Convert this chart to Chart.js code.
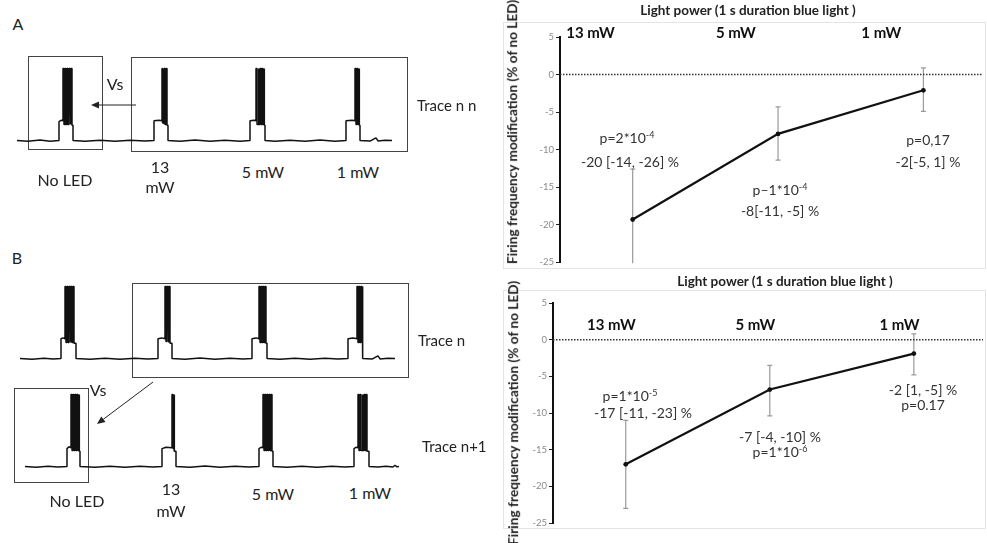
<!DOCTYPE html>
<html>
<head>
<meta charset="utf-8">
<script src="https://cdn.jsdelivr.net/npm/chart.js@4.4.0/dist/chart.umd.min.js"></script>
<style>
  html, body { margin: 0; background: #fff; overflow: hidden; }
  #page { position: relative; width: 987px; height: 543px; overflow: hidden; font-family: Lato, "Open Sans", sans-serif; color: #222; }
  canvas { position: absolute; }
  .t { position: absolute; transform: translate(-50%, -50%); white-space: nowrap; line-height: 1; }
  .l { position: absolute; transform: translateY(-50%); white-space: nowrap; line-height: 1; }
  .box { position: absolute; border: 1px solid #444; box-sizing: border-box; }
  .frame { position: absolute; border: 1px solid #e4e4e4; box-sizing: border-box; }
  .ann { font-size: 14px; color: #333; }
  .ann sup { font-size: 9px; vertical-align: 5px; line-height: 0; }
  .ttl { font-weight: bold; font-size: 13.5px; color: #222; }
  .ytl { position: absolute; font-weight: bold; font-size: 13.7px; color: #222; white-space: nowrap; line-height: 1; transform: translate(-50%, -50%) rotate(-90deg); }
  .lab { font-size: 16px; }
  .trc { font-size: 15px; }
</style>
</head>
<body>
<div id="page">
  <!-- panel A, left -->
  <div class="t lab" style="left:18px;top:24px">A</div>
  <div class="box" style="left:28px;top:56px;width:75px;height:94px"></div>
  <div class="box" style="left:131px;top:57px;width:277px;height:95px"></div>
  <canvas id="traceA" width="420" height="81" style="left:0;top:65px"></canvas>
  <div class="t lab" style="left:115px;top:84px">Vs</div>
  <div class="l trc" style="left:417px;top:105px">Trace n n</div>
  <div class="t lab" style="left:65px;top:180px">No LED</div>
  <div class="t lab" style="left:160px;top:167px">13</div>
  <div class="t lab" style="left:160px;top:187px">mW</div>
  <div class="t lab" style="left:263px;top:172px">5 mW</div>
  <div class="t lab" style="left:358px;top:172px">1 mW</div>

  <!-- panel B, left -->
  <div class="t lab" style="left:17px;top:258px">B</div>
  <div class="box" style="left:132px;top:283px;width:277px;height:95px"></div>
  <div class="box" style="left:14px;top:388px;width:75px;height:95px"></div>
  <canvas id="traceN" width="420" height="81" style="left:0;top:283px"></canvas>
  <canvas id="traceN1" width="420" height="81" style="left:0;top:391px"></canvas>
  <div class="t lab" style="left:98px;top:390px">Vs</div>
  <div class="l trc" style="left:418px;top:340px">Trace n</div>
  <div class="l trc" style="left:422px;top:446px">Trace n+1</div>
  <div class="t lab" style="left:77px;top:501px">No LED</div>
  <div class="t lab" style="left:171px;top:489px">13</div>
  <div class="t lab" style="left:171px;top:511px">mW</div>
  <div class="t lab" style="left:273px;top:494px">5 mW</div>
  <div class="t lab" style="left:370px;top:493px">1 mW</div>

  <svg style="position:absolute;left:0;top:0" width="987" height="543">
    <line x1="136" y1="105" x2="98" y2="105" stroke="#222" stroke-width="1"/>
    <polygon points="91,105 99,101.5 99,108.5" fill="#222"/>
    <line x1="153" y1="382" x2="103.4" y2="419.2" stroke="#222" stroke-width="1"/>
    <polygon points="97,424 105.5,422 101.3,416.4" fill="#222"/>
  </svg>

  <!-- right, top chart -->
  <div class="frame" style="left:503px;top:22px;width:483px;height:247px"></div>
  <canvas id="effTop" width="487" height="270" style="left:500px;top:0"></canvas>
  <div class="t ttl" style="left:748px;top:11px">Light power (1 s duration blue light )</div>
  <div class="ytl" style="left:512px;top:132px">Firing frequency modification (% of no LED)</div>
  <div class="t ann" style="left:627px;top:138px">p=2*10<sup>-4</sup></div>
  <div class="t ann" style="left:630px;top:162px">-20 [-14, -26] %</div>
  <div class="t ann" style="left:780px;top:190px">p–1*10<sup>-4</sup></div>
  <div class="t ann" style="left:780px;top:211px">-8[-11, -5] %</div>
  <div class="t ann" style="left:928px;top:140px">p=0,17</div>
  <div class="t ann" style="left:928px;top:162px">-2[-5, 1] %</div>

  <!-- right, bottom chart -->
  <div class="frame" style="left:503px;top:290px;width:483px;height:239px"></div>
  <canvas id="effBottom" width="487" height="273" style="left:500px;top:270px"></canvas>
  <div class="t ttl" style="left:785px;top:282px">Light power (1 s duration blue light )</div>
  <div class="ytl" style="left:513px;top:413px">Firing frequency modification (% of no LED)</div>
  <div class="t ann" style="left:630px;top:396px">p=1*10<sup>-5</sup></div>
  <div class="t ann" style="left:643px;top:413px">-17 [-11, -23] %</div>
  <div class="t ann" style="left:780px;top:437px">-7 [-4, -10] %</div>
  <div class="t ann" style="left:780px;top:452px">p=1*10<sup>-6</sup></div>
  <div class="t ann" style="left:923px;top:390px">-2 [1, -5] %</div>
  <div class="t ann" style="left:923px;top:405px">p=0.17</div>
</div>

<script>
// membrane potential traces, [time (s), Vm (mV)]
const traceNN = [
  [1.7,-60],[2.8,-60.8],[4.0,-59.4],[5.0,-60.6],[5.9,-60],
  [5.9,-39],[6.1,-37.5],[6.3,-38],
  [6.3,20],[6.4,20],[6.4,-42],[6.5,-42],[6.5,20],[6.6,20],[6.6,-42],[6.7,-42],[6.7,20],[6.8,20],[6.8,-42],
  [6.9,-42],[6.9,20],[7.0,20],[7.0,-42],[7.1,-42],[7.1,20],[7.2,20],[7.2,-43],
  [7.3,-43],[7.3,-60],
  [8.5,-60.8],[10.0,-59.5],[11.5,-60.7],[13.0,-59.6],[14.5,-60.5],[15.4,-60],
  [15.4,-38],[15.9,-37.5],[16.2,-38],
  [16.2,20],[16.25,20],[16.25,-40],[16.4,-41],[16.4,20],[16.5,20],[16.5,-42],[16.6,-42],[16.6,20],[16.7,20],[16.7,-43],
  [16.8,-43],[16.8,-60],
  [18.0,-60.6],[19.5,-59.4],[21.0,-60.8],[22.5,-59.6],[24.0,-60.6],[25.0,-60],
  [25.0,-38],[25.4,-37.5],[25.6,-38],
  [25.6,20],[25.7,20],[25.7,-42],[25.8,-42],[25.8,20],[25.9,20],[25.9,-42],[26.0,-42],[26.0,20],[26.1,20],[26.1,-42],
  [26.2,-42],[26.2,20],[26.3,20],[26.3,-42],[26.4,-42],[26.4,20],[26.45,20],[26.45,-43],
  [26.5,-43],[26.5,-60],
  [27.5,-60.7],[29.0,-59.5],[30.5,-60.6],[32.0,-59.4],[33.5,-60.6],[34.6,-60],
  [34.6,-38],[35.2,-37.5],[35.5,-38],
  [35.5,20],[35.6,20],[35.6,-42],[35.7,-42],[35.7,20],[35.8,20],[35.8,-42],[35.9,-42],[35.9,20],[35.95,20],[35.95,-43],
  [36.0,-43],[36.0,-60],
  [37.0,-60.5],[37.6,-57],[37.8,-60.4],[38.5,-59.6],[39.2,-60]
];
const traceN = [
  [2.0,-60],[3.2,-60.7],[4.4,-59.5],[5.3,-60.5],[6.1,-60],
  [6.1,-38],[6.3,-37],[6.5,-38],
  [6.5,20],[6.6,20],[6.6,-42],[6.7,-42],[6.7,20],[6.8,20],[6.8,-42],[6.9,-42],[6.9,20],[7.0,20],[7.0,-42],
  [7.1,-42],[7.1,20],[7.2,20],[7.2,-42],[7.3,-42],[7.3,20],[7.4,20],[7.4,-43],
  [7.6,-43],[7.6,-60],
  [9.0,-60.6],[10.5,-59.5],[12.0,-60.7],[13.5,-59.6],[14.8,-60.5],[15.8,-60],
  [15.8,-38],[16.2,-37],[16.5,-38],
  [16.5,20],[16.6,20],[16.6,-41],[16.7,-41],[16.7,20],[16.8,20],[16.8,-42],[16.9,-42],[16.9,20],[17.0,20],[17.0,-43],
  [17.2,-43],[17.2,-60],
  [18.5,-60.6],[20.0,-59.4],[21.5,-60.7],[23.0,-59.6],[24.3,-60.5],[25.2,-60],
  [25.2,-38],[25.6,-37],[25.9,-38],
  [25.9,20],[26.0,20],[26.0,-42],[26.1,-42],[26.1,20],[26.2,20],[26.2,-42],[26.3,-42],[26.3,20],[26.4,20],[26.4,-42],
  [26.5,-42],[26.5,20],[26.6,20],[26.6,-43],
  [26.7,-43],[26.7,-60],
  [28.0,-60.6],[29.5,-59.5],[31.0,-60.7],[32.5,-59.6],[33.8,-60.5],[34.8,-60],
  [34.8,-38],[35.3,-37],[35.7,-38],
  [35.7,20],[35.8,20],[35.8,-42],[35.9,-42],[35.9,20],[36.0,20],[36.0,-42],[36.1,-42],[36.1,20],[36.2,20],[36.2,-43],
  [36.3,-43],[36.3,-60],
  [37.2,-60.5],[37.8,-57],[38.0,-60.4],[38.8,-59.6],[39.5,-60]
];
const traceN1 = [
  [2.5,-60],[3.6,-60.7],[4.8,-59.5],[5.8,-60.5],[6.7,-60],
  [6.7,-40],[6.9,-38],[7.1,-39],
  [7.1,20],[7.2,20],[7.2,-42],[7.3,-42],[7.3,20],[7.4,20],[7.4,-42],[7.5,-42],[7.5,20],[7.6,20],[7.6,-42],
  [7.7,-42],[7.7,20],[7.8,20],[7.8,-42],[7.9,-42],[7.9,20],[7.95,20],[7.95,-43],
  [8.0,-43],[8.0,-60],
  [9.5,-60.6],[11.0,-59.5],[12.5,-60.7],[14.0,-59.6],[15.3,-60.5],[16.2,-60],
  [16.2,-40],[16.6,-38.5],[17.2,-39],
  [17.2,20],[17.3,20],[17.3,-40],[17.4,-40],[17.4,20],[17.45,20],[17.45,-43],
  [17.6,-43],[17.6,-60],
  [19.0,-60.6],[20.5,-59.4],[22.0,-60.7],[23.5,-59.6],[24.9,-60.5],[25.9,-60],
  [25.9,-40],[26.1,-38.5],[26.3,-39],
  [26.3,20],[26.4,20],[26.4,-42],[26.5,-42],[26.5,20],[26.6,20],[26.6,-42],[26.7,-42],[26.7,20],[26.8,20],[26.8,-42],
  [26.9,-42],[26.9,20],[27.0,20],[27.0,-42],[27.1,-42],[27.1,20],[27.2,20],[27.2,-43],
  [27.3,-43],[27.3,-60],
  [28.7,-60.6],[30.2,-59.5],[31.7,-60.7],[33.2,-59.6],[34.5,-60.5],[35.4,-60],
  [35.4,-40],[35.6,-38.5],[35.8,-39],
  [35.8,20],[35.9,20],[35.9,-42],[36.0,-42],[36.0,20],[36.1,20],[36.1,-42],[36.2,-42],[36.2,20],[36.3,20],[36.3,-42],
  [36.4,-42],[36.4,20],[36.5,20],[36.5,-42],[36.6,-42],[36.6,20],[36.7,20],[36.7,-43],
  [36.9,-43],[36.9,-60],
  [37.8,-60.5],[38.6,-59.6],[39.3,-60.4],[39.5,-58.5],[39.7,-60.3],[39.9,-60]
];

// firing frequency modification (% of no LED)
const categories = ['13 mW', '5 mW', '1 mW'];
const topMean = [-19.3, -7.9, -2.1];
const topHigh = [-12.6, -4.3, 0.9];
const topLow = [-26, -11.4, -4.9];
const bottomMean = [-17, -6.8, -1.9];
const bottomHigh = [-11, -3.5, 0.8];
const bottomLow = [-23, -10.4, -4.8];
const yMin = -25, yMax = 5, yStep = 5;

function traceChart(id, points) {
  new Chart(document.getElementById(id), {
    type: 'line',
    data: {
      datasets: [{
        data: points.map(p => ({ x: p[0], y: p[1] })),
        borderColor: '#111', borderWidth: 1.5, borderJoinStyle: 'bevel',
        pointRadius: 0, tension: 0, clip: false
      }]
    },
    options: {
      responsive: false, animation: false, devicePixelRatio: 1,
      layout: { padding: 0 },
      plugins: { legend: { display: false }, tooltip: { enabled: false } },
      scales: {
        x: { type: 'linear', display: false, min: 0, max: 42 },
        y: { display: false, min: -66, max: 24 }
      }
    }
  });
}

const errorBars = {
  id: 'errorBars',
  beforeDatasetsDraw(chart, args, opts) {
    const { ctx, chartArea, scales: { x, y } } = chart;
    ctx.save();
    ctx.beginPath();
    ctx.rect(chartArea.left, chartArea.top, chartArea.right - chartArea.left, chartArea.bottom - chartArea.top + 1);
    ctx.clip();
    ctx.strokeStyle = '#9a9a9a';
    ctx.lineWidth = 1.2;
    opts.high.forEach((h, i) => {
      const px = x.getPixelForValue(i + 1);
      const y1 = y.getPixelForValue(h), y2 = y.getPixelForValue(opts.low[i]);
      ctx.beginPath();
      ctx.moveTo(px, y1); ctx.lineTo(px, y2);
      ctx.moveTo(px - 2.5, y1); ctx.lineTo(px + 2.5, y1);
      ctx.moveTo(px - 2.5, y2); ctx.lineTo(px + 2.5, y2);
      ctx.stroke();
    });
    ctx.restore();
  }
};

function effectChart(id, mean, high, low, cfg) {
  new Chart(document.getElementById(id), {
    type: 'line',
    plugins: [errorBars],
    data: {
      datasets: [
        {
          data: [{ x: cfg.xMin, y: 0 }, { x: cfg.xMax, y: 0 }],
          borderColor: '#333', borderWidth: 1.5, borderDash: [1.5, 1.5], pointRadius: 0
        },
        {
          data: mean.map((v, i) => ({ x: i + 1, y: v })),
          borderColor: '#111', borderWidth: 2.2, pointRadius: 2.4,
          pointBackgroundColor: '#111', pointBorderWidth: 0, tension: 0
        }
      ]
    },
    options: {
      responsive: false, animation: false, devicePixelRatio: 1,
      layout: { padding: { left: 0, top: 0, right: 2, bottom: cfg.padBottom } },
      plugins: { legend: { display: false }, tooltip: { enabled: false }, errorBars: { high, low } },
      scales: {
        x: {
          type: 'linear', position: 'top', min: cfg.xMin, max: cfg.xMax,
          afterFit: s => { s.height = cfg.xHeight; },
          afterBuildTicks: s => { s.ticks = categories.map((c, i) => ({ value: i + 1 + cfg.labelShift })); },
          grid: { display: false }, border: { display: false },
          ticks: {
            autoSkip: false, maxRotation: 0, mirror: true, padding: cfg.labelPad, color: '#111',
            font: { family: 'Lato', size: 15, weight: 'bold' },
            callback: (v, i) => categories[i]
          }
        },
        y: {
          min: yMin, max: yMax,
          afterFit: s => { s.width = cfg.yWidth; },
          grid: { drawOnChartArea: false, drawTicks: true, tickLength: 4, tickColor: '#222', tickWidth: 1 },
          border: { color: '#111', width: 2 },
          ticks: { stepSize: yStep, padding: 2, color: '#8a8a8a', font: { family: 'Lato', size: 9.5 } }
        }
      }
    }
  });
}

traceChart('traceA', traceNN);
traceChart('traceN', traceN);
traceChart('traceN1', traceN1);

effectChart('effTop', topMean, topHigh, topLow,
  { xMin: 0.5, xMax: 3.41, yWidth: 60, xHeight: 37, padBottom: 6, labelShift: -0.29, labelPad: -12.5 });
effectChart('effBottom', bottomMean, bottomHigh, bottomLow,
  { xMin: 0.495, xMax: 3.48, yWidth: 53, xHeight: 33, padBottom: 20, labelShift: -0.1, labelPad: 13 });
</script>
</body>
</html>
